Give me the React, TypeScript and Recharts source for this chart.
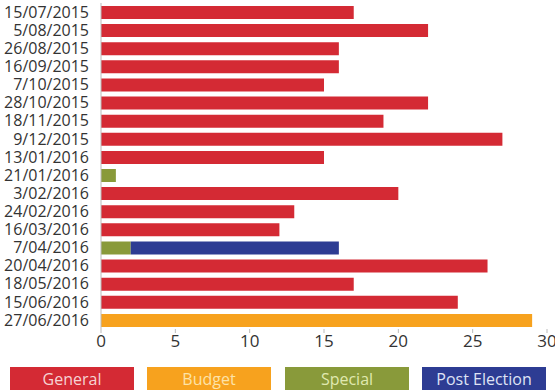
import { BarChart, Bar, XAxis, YAxis, Legend } from 'recharts';

const dates = [
  '15/07/2015', '5/08/2015', '26/08/2015', '16/09/2015', '7/10/2015', '28/10/2015',
  '18/11/2015', '9/12/2015', '13/01/2016', '21/01/2016', '3/02/2016', '24/02/2016',
  '16/03/2016', '7/04/2016', '20/04/2016', '18/05/2016', '15/06/2016', '27/06/2016',
];
const general = [17, 22, 16, 16, 15, 22, 19, 27, 15, 0, 20, 13, 12, 0, 26, 17, 24, 0];
const budget = [0, 0, 0, 0, 0, 0, 0, 0, 0, 0, 0, 0, 0, 0, 0, 0, 0, 29];
const special = [0, 0, 0, 0, 0, 0, 0, 0, 0, 1, 0, 0, 0, 2, 0, 0, 0, 0];
const postElection = [0, 0, 0, 0, 0, 0, 0, 0, 0, 0, 0, 0, 0, 14, 0, 0, 0, 0];
const xTicks = [0, 5, 10, 15, 20, 25, 30];

const SERIES = [
  { key: 'general', name: 'General', color: '#d42a34', text: '#f6d3d3' },
  { key: 'budget', name: 'Budget', color: '#f7a21e', text: '#fde3a8' },
  { key: 'special', name: 'Special', color: '#899a3a', text: '#e0e9b0' },
  { key: 'postElection', name: 'Post Election', color: '#2d3c93', text: '#dfe3f5' },
];

const data = dates.map((date, i) => ({
  date,
  general: general[i],
  budget: budget[i],
  special: special[i],
  postElection: postElection[i],
}));

const FONT = '"Open Sans", "DejaVu Sans", sans-serif';

const renderLegend = () => (
  <div style={{ position: 'relative', height: 24 }}>
    {SERIES.map((s, i) => (
      <div
        key={s.key}
        style={{
          position: 'absolute',
          left: [10, 147, 285, 422][i],
          top: 0,
          width: 124,
          height: 24,
          background: s.color,
          color: s.text,
          fontFamily: FONT,
          fontSize: 16,
          lineHeight: '24px',
          textAlign: 'center',
        }}
      >
        {s.name}
      </div>
    ))}
  </div>
);

export default function App() {
  return (
    <div style={{ position: 'absolute', left: 0, top: 0, width: 555, height: 390, background: '#fff', overflow: 'hidden' }}>
      <BarChart
        width={555}
        height={390}
        data={data}
        layout="vertical"
        margin={{ top: 3, right: 8, left: 0, bottom: 7 }}
        barSize={13}
      >
        <XAxis
          type="number"
          domain={[0, 30]}
          ticks={xTicks}
          axisLine={false}
          tickLine={{ stroke: '#bbb' }}
          tickSize={4}
          height={30}
          tick={{ fontSize: 17, fill: '#333', fontFamily: FONT }}
          interval={0}
        />
        <YAxis
          type="category"
          dataKey="date"
          width={101}
          axisLine={{ stroke: '#bbb' }}
          tickLine={false}
          tickMargin={6}
          interval={0}
          tick={{ fontSize: 16, fill: '#333', fontFamily: FONT }}
        />
        <Legend
          content={renderLegend}
          wrapperStyle={{ left: 0, top: 367, width: 555, height: 24 }}
        />
        <Bar dataKey="special" name="Special" stackId="a" fill="#899a3a" isAnimationActive={false} legendType="none" />
        <Bar dataKey="general" name="General" stackId="a" fill="#d42a34" isAnimationActive={false} />
        <Bar dataKey="budget" name="Budget" stackId="a" fill="#f7a21e" isAnimationActive={false} />
        <Bar dataKey="postElection" name="Post Election" stackId="a" fill="#2d3c93" isAnimationActive={false} />
      </BarChart>
    </div>
  );
}
